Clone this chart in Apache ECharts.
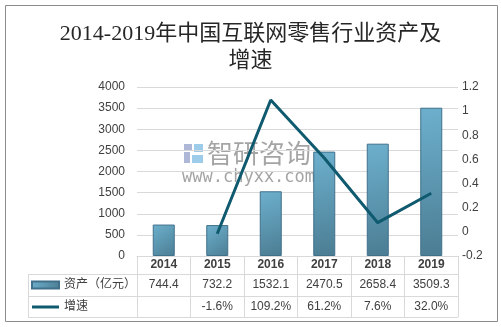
<!DOCTYPE html>
<html>
<head>
<meta charset="utf-8">
<script src="https://cdn.jsdelivr.net/npm/echarts@6/dist/echarts.min.js"></script>
<style>
  html, body { margin: 0; padding: 0; background: #fff; }
  #chart { width: 501px; height: 327px; }
</style>
</head>
<body>
<div id="chart"></div>
<script>
// Years shown along the category axis and in the table header row
const years = ['2014', '2015', '2016', '2017', '2018', '2019'];
// Internet retail industry assets, 100 million yuan
const assets = [744.4, 732.2, 1532.1, 2470.5, 2658.4, 3509.3];
// Year-on-year growth, percent (none for the first year)
const growthPct = [null, -1.6, 109.2, 61.2, 7.6, 32.0];

const leftTicks = { min: 0, max: 4000, interval: 500 };
const rightTicks = { min: -0.2, max: 1.2, interval: 0.2 };

const seriesNames = ['资产（亿元）', '增速'];
const titleText = '2014-2019年中国互联网零售行业资产及\n增速';

const textColor = '#404040';
const gridColor = '#d9d9d9';
const lineColor = '#0f5a6e';
const font = '"Liberation Sans", "Noto Sans CJK SC", sans-serif';

const chart = echarts.init(document.getElementById('chart'), null, { renderer: 'canvas' });

const gridLeft = 137, gridRight = 43, gridTop = 87, gridBottom = 71;
const tableLeft = 28;
const rowLines = [274, 296, 317];
const plotRightX = 501 - gridRight;

const barGradient = new echarts.graphic.LinearGradient(0, 0, 1, 1, [
  { offset: 0, color: '#6db0cd' },
  { offset: 1, color: '#4b7d93' }
]);

const graphics = [
  // outer frame
  { type: 'rect', shape: { x: 5.5, y: 5.5, width: 492, height: 316 },
    style: { fill: 'none', stroke: '#8c8c8c', lineWidth: 1 }, z: 0 },
  // left border of legend cells
  { type: 'line', shape: { x1: tableLeft + 0.5, y1: rowLines[0], x2: tableLeft + 0.5, y2: rowLines[2] },
    style: { stroke: gridColor, lineWidth: 1 }, z: 5 }
];
rowLines.forEach(y => {
  graphics.push({ type: 'line', shape: { x1: tableLeft, y1: y + 0.5, x2: plotRightX, y2: y + 0.5 },
    style: { stroke: gridColor, lineWidth: 1 }, z: 5 });
});
// watermark
graphics.push(
  { type: 'group', z: 50, children: [
    { type: 'rect', shape: { x: 184, y: 144, width: 8, height: 6 }, style: { fill: 'rgba(120,135,185,0.6)' } },
    { type: 'rect', shape: { x: 184, y: 152, width: 6, height: 11 }, style: { fill: 'rgba(120,135,185,0.6)' } },
    { type: 'rect', shape: { x: 194, y: 144, width: 9, height: 8 }, style: { fill: 'rgba(90,170,220,0.6)' } },
    { type: 'rect', shape: { x: 192, y: 155, width: 11, height: 8 }, style: { fill: 'rgba(90,170,220,0.6)' } },
    { type: 'text', style: { text: '智研咨询', x: 207, y: 153, verticalAlign: 'middle',
      font: '26px "Noto Sans CJK SC", sans-serif', fill: 'rgba(125,125,125,0.7)' } },
    { type: 'text', style: { text: 'www.chyxx.com', x: 182, y: 178, verticalAlign: 'middle',
      font: '17px "DejaVu Sans Mono", monospace', fill: 'rgba(125,125,125,0.7)' } }
  ] }
);

const option = {
  backgroundColor: '#ffffff',
  animation: false,
  title: {
    text: titleText,
    left: 'center',
    top: 16,
    textStyle: {
      fontFamily: '"Liberation Serif", "Noto Sans CJK SC", serif',
      fontSize: 22,
      fontWeight: 'normal',
      color: '#262626',
      lineHeight: 27
    }
  },
  legend: {
    orient: 'vertical',
    left: 31,
    top: 278,
    padding: 0,
    itemGap: 8,
    itemWidth: 27,
    itemHeight: 7,
    data: [
      { name: seriesNames[0], icon: 'rect' },
      { name: seriesNames[1], icon: 'path://M0,0L27,0L27,3L0,3Z', itemStyle: { color: lineColor } }
    ],
    textStyle: { fontSize: 12, color: textColor, fontFamily: font, lineHeight: 14 }
  },
  grid: { left: gridLeft, right: gridRight, top: gridTop, bottom: gridBottom },
  xAxis: {
    type: 'category',
    data: years,
    boundaryGap: true,
    axisLine: { lineStyle: { color: gridColor } },
    axisTick: { show: true, length: 61, interval: 0, lineStyle: { color: gridColor } },
    axisLabel: {
      margin: 0,
      interval: 0,
      formatter: (v, i) => {
        const g = growthPct[i] == null ? ' ' : growthPct[i].toFixed(1) + '%';
        return '{a|' + v + '}\n{b|' + assets[i].toFixed(1) + '}\n{c|' + g + '}';
      },
      rich: {
        a: { fontSize: 12, lineHeight: 18, color: textColor, fontFamily: font, fontWeight: 'bold' },
        b: { fontSize: 12, lineHeight: 22, color: textColor, fontFamily: font },
        c: { fontSize: 12, lineHeight: 22, color: textColor, fontFamily: font }
      }
    }
  },
  yAxis: [
    {
      type: 'value',
      min: leftTicks.min, max: leftTicks.max, interval: leftTicks.interval,
      axisLine: { show: false },
      axisTick: { show: false },
      splitLine: { lineStyle: { color: gridColor } },
      axisLabel: { color: textColor, fontSize: 12, fontFamily: font, margin: 12,
        formatter: v => String(v) }
    },
    {
      type: 'value',
      min: rightTicks.min, max: rightTicks.max, interval: rightTicks.interval,
      axisLine: { show: false },
      axisTick: { show: false },
      splitLine: { show: false },
      axisLabel: {
        color: textColor, fontSize: 12, fontFamily: font, margin: 4,
        formatter: v => String(Math.round(v * 10) / 10)
      }
    }
  ],
  series: [
    {
      name: seriesNames[0],
      type: 'bar',
      yAxisIndex: 0,
      data: assets,
      barWidth: 22,
      itemStyle: { color: barGradient, borderColor: '#41708a', borderWidth: 1 }
    },
    {
      name: seriesNames[1],
      type: 'line',
      yAxisIndex: 1,
      data: growthPct.map(v => (v == null ? null : v / 100)),
      symbol: 'none',
      lineStyle: { color: lineColor, width: 3 },
      itemStyle: { color: lineColor },
      z: 10
    }
  ],
  graphic: graphics
};

chart.setOption(option);
</script>
</body>
</html>
